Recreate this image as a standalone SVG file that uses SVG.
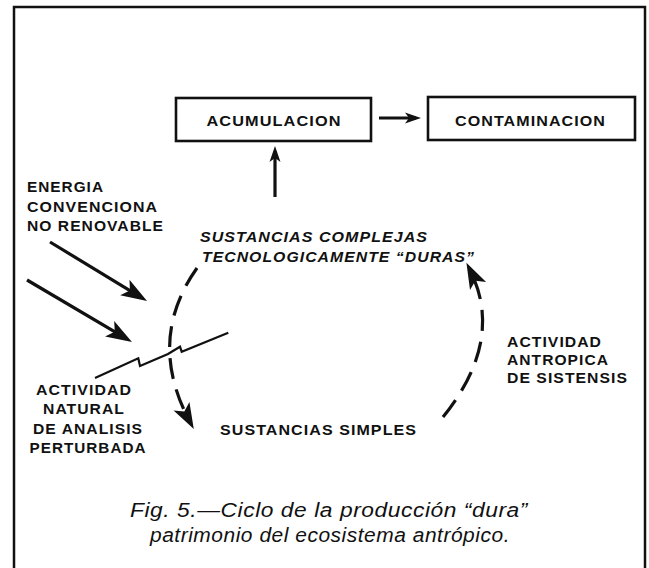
<svg xmlns="http://www.w3.org/2000/svg" width="649" height="568" viewBox="0 0 649 568">
<style>
.lbl{font-family:"Liberation Sans",Arial,Helvetica,sans-serif;font-weight:bold;font-size:15px;letter-spacing:1px;fill:#111}
.it{font-style:italic}
.cap{font-family:"Liberation Sans",Arial,Helvetica,sans-serif;font-style:italic;font-size:20px;letter-spacing:0.5px;fill:#111}
.box{fill:#fff;stroke:#111;stroke-width:2.6}
.frame{fill:none;stroke:#111;stroke-width:2.5}
.ln{fill:none;stroke:#111;stroke-width:3.2}
.dash{fill:none;stroke:#111;stroke-width:3.2;stroke-dasharray:21 11}
</style>
<defs>
<marker id="big" markerUnits="userSpaceOnUse" markerWidth="40" markerHeight="40" viewBox="-20 -20 40 40" refX="0" refY="0" orient="auto" overflow="visible">
<path d="M8,0 L-18,-9 L-12,0 L-18,9 Z" fill="#111"/>
</marker>
<marker id="small" markerUnits="userSpaceOnUse" markerWidth="30" markerHeight="30" viewBox="-15 -15 30 30" refX="0" refY="0" orient="auto" overflow="visible">
<path d="M5,0 L-11,-5.5 L-7,0 L-11,5.5 Z" fill="#111"/>
</marker>
</defs>

<rect class="frame" x="14" y="7" width="631" height="600"/>

<g id="acumulacion">
<rect class="box" x="176" y="98" width="195" height="43"/>
<text class="lbl" x="274" y="126" text-anchor="middle" textLength="135" lengthAdjust="spacingAndGlyphs">ACUMULACION</text>
</g>

<g id="contaminacion">
<rect class="box" x="428" y="97" width="207" height="43"/>
<text class="lbl" x="530.5" y="126" text-anchor="middle" textLength="151" lengthAdjust="spacingAndGlyphs">CONTAMINACION</text>
</g>

<g id="energia">
<text class="lbl" x="27" y="192" textLength="77" lengthAdjust="spacingAndGlyphs">ENERGIA</text>
<text class="lbl" x="27" y="212" textLength="131" lengthAdjust="spacingAndGlyphs">CONVENCIONA</text>
<text class="lbl" x="27" y="231" textLength="137" lengthAdjust="spacingAndGlyphs">NO RENOVABLE</text>
</g>

<g id="complejas">
<text class="lbl it" x="200" y="242" textLength="228" lengthAdjust="spacingAndGlyphs">SUSTANCIAS COMPLEJAS</text>
<text class="lbl it" x="202" y="262" textLength="273" lengthAdjust="spacingAndGlyphs">TECNOLOGICAMENTE “DURAS”</text>
</g>

<g id="natural">
<text class="lbl" x="84" y="395" text-anchor="middle" textLength="96" lengthAdjust="spacingAndGlyphs">ACTIVIDAD</text>
<text class="lbl" x="84" y="414" text-anchor="middle" textLength="82" lengthAdjust="spacingAndGlyphs">NATURAL</text>
<text class="lbl" x="88" y="434" text-anchor="middle" textLength="110" lengthAdjust="spacingAndGlyphs">DE ANALISIS</text>
<text class="lbl" x="88" y="453" text-anchor="middle" textLength="117" lengthAdjust="spacingAndGlyphs">PERTURBADA</text>
</g>

<g id="simples">
<text class="lbl" x="220" y="435" textLength="197" lengthAdjust="spacingAndGlyphs">SUSTANCIAS SIMPLES</text>
</g>

<g id="antropica">
<text class="lbl" x="507" y="347" textLength="95" lengthAdjust="spacingAndGlyphs">ACTIVIDAD</text>
<text class="lbl" x="507" y="365" textLength="102" lengthAdjust="spacingAndGlyphs">ANTROPICA</text>
<text class="lbl" x="507" y="383" textLength="121" lengthAdjust="spacingAndGlyphs">DE SISTENSIS</text>
</g>

<g id="caption">
<text class="cap" x="130" y="517" textLength="398" lengthAdjust="spacingAndGlyphs">Fig. 5.—Ciclo de la producción “dura”</text>
<text class="cap" x="150" y="542" textLength="360" lengthAdjust="spacingAndGlyphs">patrimonio del ecosistema antrópico.</text>
</g>

<g id="connectors">
<line class="ln" x1="379" y1="118" x2="416" y2="118" stroke-width="3.5" marker-end="url(#small)"/>
<line class="ln" x1="275" y1="197" x2="275" y2="151" stroke-width="2.5" marker-end="url(#small)"/>
<line class="ln" x1="50" y1="242" x2="140.2" y2="296.8" marker-end="url(#big)"/>
<line class="ln" x1="27" y1="280" x2="125.1" y2="337.9" marker-end="url(#big)"/>
<polyline fill="none" stroke="#111" stroke-width="2.2" stroke-linejoin="miter" points="95,378 138.3,358.3 140,366 168,354 180,346.7 181.7,351.7 228.3,332.7"/>
<path class="dash" d="M197,268 Q146,340 190,422" marker-end="url(#big)"/>
<path class="dash" d="M443,417 Q505,340 470,270" stroke-dasharray="19 11" marker-end="url(#big)"/>
</g>
</svg>
